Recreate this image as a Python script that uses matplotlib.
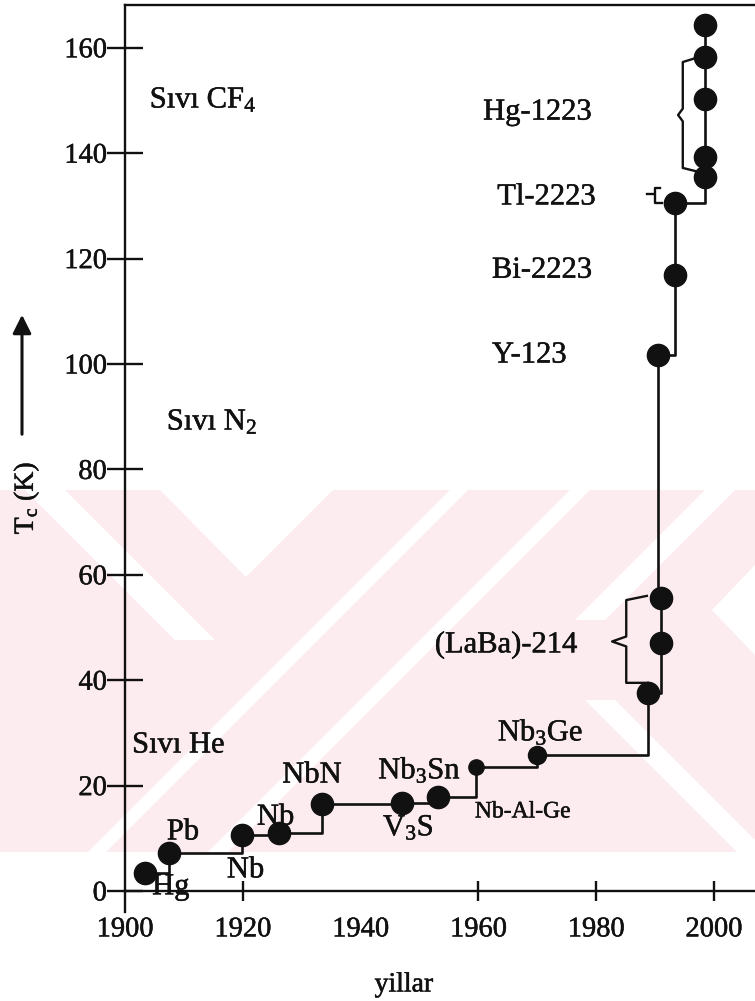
import matplotlib
matplotlib.use("Agg")
import matplotlib.pyplot as plt
import matplotlib.patheffects as pe
from matplotlib.patches import Polygon

plt.rcParams['font.family'] = ['Liberation Serif', 'DejaVu Serif']
plt.rcParams['mathtext.default'] = 'regular'

# ---------------- data ----------------
years = [1903.4, 1907.5, 1919.9, 1926.1, 1933.4, 1947.0, 1953.1, 1959.6, 1970.0,
         1988.8, 1991.0, 1991.0, 1990.5, 1993.4, 1993.4,
         1998.5, 1998.5, 1998.5, 1998.5, 1998.5]
tc = [3.4, 7.2, 10.6, 11.0, 16.5, 16.7, 17.8, 23.5, 25.8,
      37.6, 47.1, 55.6, 101.7, 116.9, 130.6,
      135.5, 139.3, 150.3, 158.3, 164.3]

materials = ["Hg", "Pb", "Nb", "Nb", "NbN", "V$_3$S", "Nb-Al-Ge", "Nb$_3$Sn", "Nb$_3$Ge",
             "(LaBa)-214", "Y-123", "Bi-2223", "Tl-2223", "Hg-1223"]
label_year = [1904.6, 1907.1, 1917.3, 1922.4, 1926.7, 1943.8, 1959.4, 1943.0, 1963.3,
              1952.6, 1962.3, 1962.3, 1963.2, 1960.8]
label_tc = [0.8, 11.2, 4.0, 14.0, 22.0, 12.0, 15.0, 23.0, 30.2,
            46.7, 101.7, 117.8, 131.7, 147.8]

coolants = ["S\u0131v\u0131 CF$_4$", "S\u0131v\u0131 N$_2$", "S\u0131v\u0131 He"]
coolant_year = [1904.2, 1907.1, 1901.2]
coolant_tc = [150.1, 89.0, 27.7]

xticks = [1900, 1920, 1940, 1960, 1980, 2000]
yticks = [0, 20, 40, 60, 80, 100, 120, 140, 160]

W, H = 755, 1001
INK = '#111111'
fig = plt.figure(figsize=(W / 100, H / 100), dpi=100)
fig.patch.set_facecolor('white')
thick = [pe.withStroke(linewidth=0.35, foreground=INK)]

# ---------------- background watermark (pink band with white diagonals) ----------------
def px(pts):
    return [(x / W, 1 - y / H) for x, y in pts]

PINK = '#fdecef'
y0, y1 = 490, 852
fig.patches.append(Polygon(px([(0, y0), (W, y0), (W, y1), (0, y1)]), closed=True,
                           transform=fig.transFigure, facecolor=PINK, edgecolor='none', zorder=-2))

def up_band(a, b, ya=y0, yb=y1):   # x + y in [a, b]
    return [(a - ya, ya), (b - ya, ya), (b - yb, yb), (a - yb, yb)]

def down_band(a, b, ya=y0, yb=y1):  # x - y in [a, b]
    return [(a + ya, ya), (b + ya, ya), (b + yb, yb), (a + yb, yb)]

whites = [
    down_band(-465, -425, y0, 640),
    [(160, y0), (333, y0), (246, 577)],
    up_band(940, 958),
    up_band(1060, 1080),
    up_band(1195, 1225, y0, 620),
    down_band(-115, -85, 700, y1),
    [(755, 565), (712, 610), (755, 655)],
]
for poly in whites:
    fig.patches.append(Polygon(px(poly), closed=True, transform=fig.transFigure,
                               facecolor='white', edgecolor='none', zorder=-1))

# ---------------- axes ----------------
left_px, right_px, top_px, bot_px = 125, 755, 5, 912
ax = fig.add_axes([left_px / W, 1 - bot_px / H, (right_px - left_px) / W, (bot_px - top_px) / H])
ax.set_zorder(2)
ax.patch.set_alpha(0)
ax.set_xlim(1900, 1900 + (right_px - left_px) / 5.89)
ax.set_ylim(-(bot_px - 891) / 5.27, (891 - top_px) / 5.27)

for s in ['left', 'top', 'bottom']:
    ax.spines[s].set_linewidth(1.7)
    ax.spines[s].set_color(INK)
ax.spines['right'].set_visible(False)
ax.spines['bottom'].set_position(('data', 0))

ax.set_xticks(xticks)
ax.set_yticks(yticks)
ax.tick_params(axis='y', direction='inout', length=26, width=1.7, pad=0, labelsize=20.5, colors=INK)
ax.tick_params(axis='x', direction='inout', length=14, width=1.7, pad=12, labelsize=20.5, colors=INK)
xt = ax.xaxis.get_major_ticks()
xt[0].tick1line.set_visible(False)
xt[2].tick1line.set_visible(False)
for lab in ax.get_xticklabels() + ax.get_yticklabels():
    lab.set_path_effects(thick)

# step line and points
ax.plot(years, tc, drawstyle='steps-post', color=INK, lw=1.9, zorder=3)
msize = [16] * len(years)
msize[7] = 11
msize[8] = 13
for x, y, m in zip(years, tc, msize):
    ax.plot([x], [y], 'o', color=INK, ms=m, zorder=4)

# braces
def brace(x, ytop, ybot, xtip, xend_top, yend_top, xend_bot, yend_bot):
    ymid = (ytop + ybot) / 2
    d = (ytop - ybot) * 0.06
    ax.plot([xend_top, x, x, xtip, x, x, xend_bot],
            [yend_top, ytop, ymid + d, ymid, ymid - d, ybot, yend_bot],
            color=INK, lw=1.7, zorder=3)

brace(1994.7, 157.3, 137.2, 1993.9, 1997.6, 158.3, 1997.6, 136.4)
brace(1985.1, 55.2, 39.5, 1982.7, 1988.6, 56.0, 1988.8, 39.5)
ax.plot([1988.6, 1989.8], [132.3, 132.3], color=INK, lw=1.7, zorder=3)
ax.plot([1990.8, 1990.0, 1990.0, 1991.2], [133.4, 133.4, 130.6, 130.6], color=INK, lw=1.7, zorder=3)

# text labels
for t, x, y in zip(materials, label_year, label_tc):
    size = 17 if t == "Nb-Al-Ge" else 22
    ax.text(x, y, t, ha='left', va='center', fontsize=size, zorder=2, color=INK, path_effects=thick)
for t, x, y in zip(coolants, coolant_year, coolant_tc):
    ax.text(x, y, t, ha='left', va='center', fontsize=22, zorder=2, color=INK, path_effects=thick)

# axis titles
fig.text(404 / W, 1 - 985 / H, "yillar", ha='center', va='center', fontsize=20, color=INK, path_effects=thick)
fig.text(26 / W, 1 - 498 / H, "T$_c$ (K)", ha='center', va='center', fontsize=20, rotation=90,
         color=INK, path_effects=thick)
fig.add_artist(matplotlib.patches.FancyArrowPatch(
    (22 / W, 1 - 437 / H), (22 / W, 1 - 312 / H), transform=fig.transFigure,
    arrowstyle='-|>', mutation_scale=28, color=INK, lw=2.2))

fig.savefig("out.png", dpi=100)
